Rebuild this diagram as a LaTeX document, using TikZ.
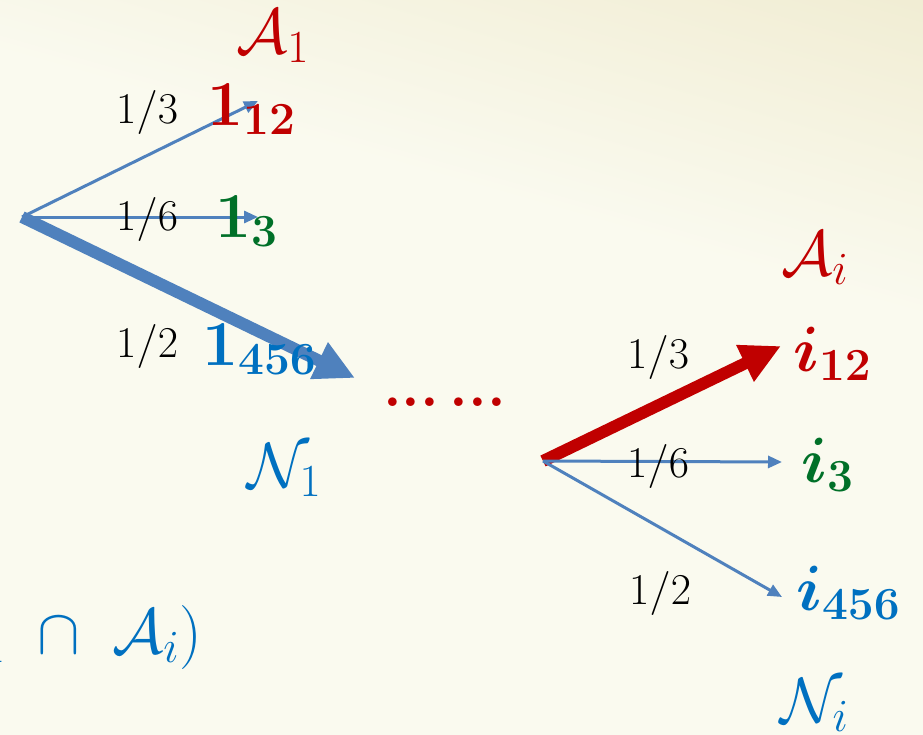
\documentclass[tikz,border=0pt]{standalone}
\usepackage{fix-cm}
\usepackage{amsmath,bm}
\usetikzlibrary{arrows.meta}
\DeclareMathSizes{64}{64}{46}{34}
\DeclareMathSizes{44}{44}{32}{24}
\definecolor{bgc}{RGB}{250,250,239}
\definecolor{bgt}{RGB}{229,220,176}
\definecolor{myred}{RGB}{192,0,0}
\definecolor{mygreen}{RGB}{0,112,40}
\definecolor{myblue}{RGB}{0,112,192}
\definecolor{arrblue}{RGB}{79,129,189}
\pgfdeclareverticalshading{bgshade}{100bp}{color(0bp)=(bgc); color(60bp)=(bgc); color(100bp)=(bgt)}
\begin{document}
\begin{tikzpicture}[x=1pt,y=-1pt,
  lab/.style={inner sep=0pt,anchor=base west,font=\fontsize{64}{70}\selectfont},
  frac/.style={inner sep=0pt,anchor=base west,font=\fontsize{44}{50}\selectfont,text=black},
  thinarr/.style={draw=arrblue,line width=3pt,-{Triangle[length=14pt,width=12pt]}},
  thickarr/.style={line width=12pt,-{Triangle[length=40pt,width=38pt]}}]
\useasboundingbox (0,0) rectangle (923,734);
\clip (0,0) rectangle (923,734);
\shade[shading=bgshade, shading angle=-16] (-50,-50) rectangle (973,784);
% left tree
\coordinate (o1) at (22,217);
\coordinate (t12) at (258,101);
\coordinate (t3) at (258,217);
\coordinate (t456) at (355,378);
\draw[thinarr] (o1) -- (t12);
\draw[thinarr] (o1) -- (t3);
\draw[thickarr,draw=arrblue] (o1) -- (t456);
% right tree
\coordinate (o2) at (543,461);
\coordinate (s12) at (781,346);
\coordinate (s3) at (782,462);
\coordinate (s456) at (782,597);
\draw[thickarr,draw=myred] (o2) -- (s12);
\draw[thinarr] (o2) -- (s3);
\draw[thinarr] (o2) -- (s456);
% fractions
\node[frac] (f1) at (116,123) {$1/3$};
\node[frac] (f2) at (116,230) {$1/6$};
\node[frac] (f3) at (116,357) {$1/2$};
\node[frac] (g1) at (627,368) {$1/3$};
\node[frac] (g2) at (627,477) {$1/6$};
\node[frac] (g3) at (629,604) {$1/2$};
% labels left
\node[lab,text=myred] (A1) at (236,53) {$\mathcal{A}_1$};
\node[lab,text=myred] (n12) at (207,125) {$\mathbf{1}_{\mathbf{12}}$};
\node[lab,text=mygreen] (n3) at (215,237) {$\mathbf{1}_{\mathbf{3}}$};
\node[lab,text=myblue] (n456) at (202,365) {$\mathbf{1}_{\mathbf{456}}$};
\node[lab,text=myblue] (N1) at (247,487) {$\mathcal{N}_1$};
% dots
\node[inner sep=0pt,anchor=base west,font=\fontsize{60}{66}\selectfont\bfseries,text=myred] (dots) at (383,406) {.\kern0pt.\kern0pt.\kern10pt.\kern0pt.\kern0pt.};
% labels right
\node[lab,text=myred] (Ai) at (781,275) {$\mathcal{A}_i$};
\node[lab,text=myred] (i12) at (793,371) {$\bm{i}_{\mathbf{12}}$};
\node[lab,text=mygreen] (i3) at (801,482) {$\bm{i}_{\mathbf{3}}$};
\node[lab,text=myblue] (i456) at (796,610) {$\bm{i}_{\mathbf{456}}$};
\node[lab,text=myblue] (Ni) at (780,722) {$\mathcal{N}_i$};
% bottom-left partial formula
\node[lab,anchor=base east,text=myblue] (pf) at (202,653) {$P(\mathcal{N}_1\;\cap\;\mathcal{A}_i)$};
\end{tikzpicture}
\end{document}
